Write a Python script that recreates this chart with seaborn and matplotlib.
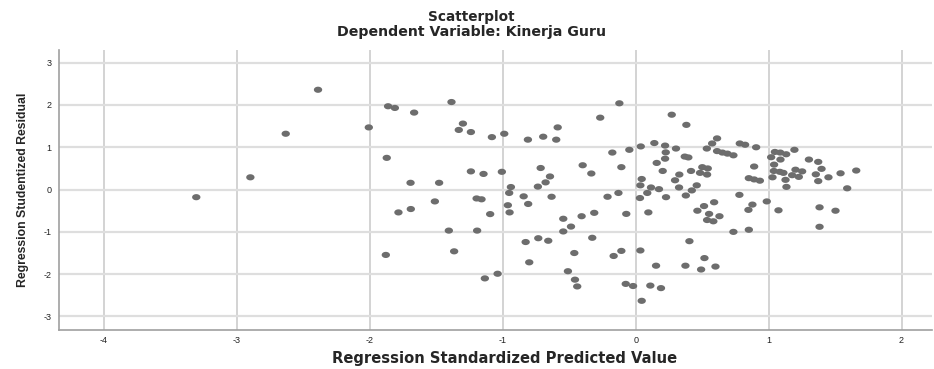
import numpy as np
import pandas as pd
import seaborn as sns
import matplotlib
matplotlib.use("Agg")
import matplotlib.pyplot as plt

# values
predicted = [
    -3.306, -2.899, -2.633, -2.39, -2.008, -1.863, -1.812, -1.667, -1.386, -1.30,
    -1.331, -1.24, -1.082, -0.989, -0.811, -0.696, -0.587, -0.598, -0.267, -0.123,
    -0.176, -0.108, -1.873, -1.24, -1.145, -1.007, -1.694, -1.479, -1.511, -1.785,
    -1.692, -1.197, -1.16, -1.095, -0.939, -0.952, -0.962, -0.949, -0.843, -0.809,
    -0.715, -0.645, -0.678, -0.736, -0.633, -0.399, -0.334, -0.212, -0.13, -0.545,
    -0.487, -0.545, -0.407, -0.312, -1.406, -1.193, -1.366, -1.88, -0.828, -0.733,
    -0.658, -0.801, -0.327, -0.462, -0.166, -0.108, -1.135, -1.039, -0.51, -0.457,
    -0.44, 0.271, 0.381, 0.612, 0.575, 0.535, 0.612, 0.652, 0.69, 0.735,
    0.038, 0.14, 0.221, 0.303, 0.226, 0.221, 0.158, 0.369, 0.396, -0.048,
    0.203, 0.328, 0.296, 0.416, 0.501, 0.542, 0.484, 0.537, 0.045, 0.035,
    0.115, 0.087, 0.175, 0.032, 0.228, 0.326, 0.459, 0.422, 0.377, -0.071,
    0.095, 0.59, 0.514, 0.464, 0.552, 0.63, 0.537, 0.584, 0.735, 0.404,
    0.035, 0.517, 0.153, 0.374, 0.60, 0.492, -0.075, -0.02, 0.11, 0.19,
    0.045, 0.783, 0.823, 0.906, 1.047, 1.087, 1.132, 1.019, 1.089, 1.194,
    1.303, 1.373, 1.041, 0.891, 1.039, 1.084, 1.111, 1.029, 1.127, 1.202,
    1.252, 1.177, 1.227, 1.355, 1.398, 1.373, 1.45, 1.541, 1.659, 1.134,
    1.591, 0.851, 0.891, 0.934, 0.78, 0.878, 0.848, 0.986, 1.074, 1.383,
    1.503, 1.383, 0.851,
]
residual = [
    -0.18, 0.29, 1.32, 2.36, 1.47, 1.97, 1.93, 1.82, 2.07, 1.56,
    1.41, 1.36, 1.24, 1.32, 1.18, 1.25, 1.47, 1.18, 1.70, 2.04,
    0.875, 0.53, 0.75, 0.43, 0.37, 0.42, 0.16, 0.16, -0.28, -0.54,
    -0.46, -0.21, -0.23, -0.58, 0.06, -0.08, -0.37, -0.54, -0.16, -0.34,
    0.51, 0.31, 0.17, 0.07, -0.17, 0.575, 0.38, -0.17, -0.08, -0.69,
    -0.875, -0.99, -0.63, -0.55, -0.97, -0.97, -1.46, -1.545, -1.24, -1.15,
    -1.21, -1.72, -1.14, -1.50, -1.57, -1.45, -2.10, -1.99, -1.93, -2.13,
    -2.29, 1.77, 1.53, 1.21, 1.09, 0.97, 0.91, 0.875, 0.85, 0.81,
    1.02, 1.10, 1.04, 0.97, 0.88, 0.73, 0.63, 0.78, 0.76, 0.94,
    0.44, 0.355, 0.22, 0.44, 0.53, 0.50, 0.395, 0.355, 0.25, 0.10,
    0.05, -0.08, 0.01, -0.20, -0.18, 0.05, 0.10, -0.02, -0.14, -0.575,
    -0.54, -0.30, -0.39, -0.50, -0.575, -0.63, -0.72, -0.75, -1.00, -1.22,
    -1.44, -1.62, -1.80, -1.80, -1.82, -1.89, -2.23, -2.28, -2.27, -2.33,
    -2.63, 1.09, 1.06, 1.00, 0.89, 0.875, 0.835, 0.765, 0.71, 0.94,
    0.71, 0.655, 0.59, 0.545, 0.44, 0.42, 0.395, 0.29, 0.23, 0.47,
    0.43, 0.34, 0.30, 0.36, 0.49, 0.20, 0.29, 0.385, 0.45, 0.064,
    0.03, 0.27, 0.24, 0.21, -0.125, -0.355, -0.48, -0.28, -0.49, -0.42,
    -0.50, -0.88, -0.95,
]

x_ticks = [-4, -3, -2, -1, 0, 1, 2]
y_ticks = [-3, -2, -1, 0, 1, 2, 3]

df = pd.DataFrame({"pred": predicted, "resid": residual})

sns.set_style("white")
plt.rcParams["font.family"] = ["Liberation Sans", "DejaVu Sans"]

fig = plt.figure(figsize=(9.34, 3.69), dpi=100)
ax = fig.add_axes([0.0637, 0.1057, 0.9343, 0.7588])

# slightly wide dots, like the original
t = np.linspace(0, 2 * np.pi, 40)
ellipse = np.column_stack([1.35 * np.cos(t), np.sin(t)])

sns.scatterplot(data=df, x="pred", y="resid", ax=ax, color="#6d6d6d",
                marker=ellipse, s=36, edgecolor="none", linewidth=0, zorder=3)

ax.set_xlim(-4.335, 2.23)
ax.set_ylim(-3.32, 3.30)
ax.set_xticks(x_ticks)
ax.set_yticks(y_ticks)
ax.set_xticklabels([str(v) for v in x_ticks])
ax.set_yticklabels([str(v) for v in y_ticks])
ax.tick_params(axis="both", length=0, labelsize=6.5, colors="#222222")
ax.tick_params(axis="x", pad=4)
ax.tick_params(axis="y", pad=6)

ax.grid(axis="x", color="#c8c8c8", linewidth=1.1)
ax.grid(axis="y", color="#dedede", linewidth=1.6)
ax.set_axisbelow(True)

for side in ["top", "right"]:
    ax.spines[side].set_visible(False)
for side in ["left", "bottom"]:
    ax.spines[side].set_color("#a0a0a0")
    ax.spines[side].set_linewidth(1.2)

# the reference text is wide, so the bold labels use DejaVu Sans
ax.set_xlabel("Regression Standardized Predicted Value", fontsize=10.6,
              fontweight="bold", family="DejaVu Sans")
ax.xaxis.set_label_coords(0.51, -0.075)
ax.set_ylabel("Regression Studentized Residual", fontsize=8.8,
              fontweight="bold", labelpad=10)

fig.text(0.505, 0.954, "Scatterplot", ha="center", va="center",
         fontsize=9.8, fontweight="bold", family="DejaVu Sans")
fig.text(0.505, 0.913, "Dependent Variable: Kinerja Guru", ha="center",
         va="center", fontsize=10.2, fontweight="bold", family="DejaVu Sans")

fig.savefig("out.png", dpi=100)
plt.close(fig)
